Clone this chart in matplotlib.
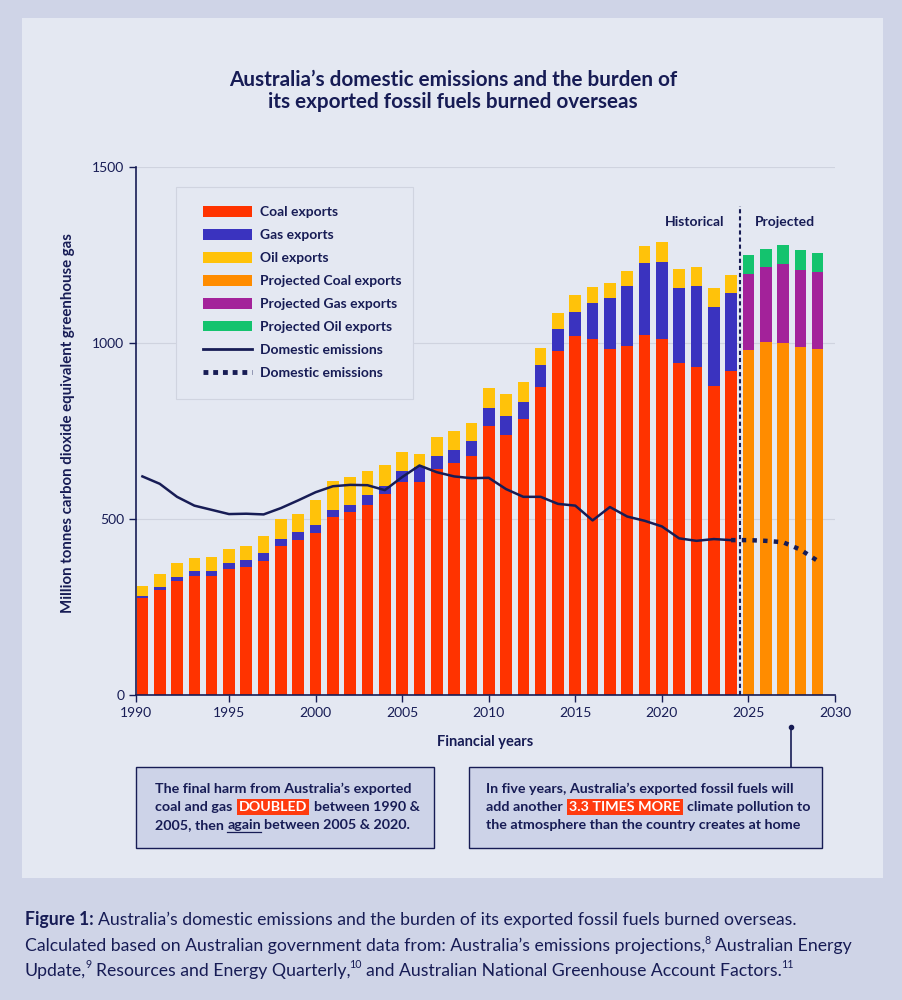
import matplotlib
matplotlib.use('Agg')
import matplotlib.pyplot as plt
from matplotlib.patches import Patch, Rectangle
from matplotlib.lines import Line2D

# colours
OUTER = '#cfd4e7'
INNER = '#e4e8f2'
BOXFILL = '#cdd3e8'
NAVY = '#171c55'
COAL = '#ff3300'
GAS = '#3a33bf'
OIL = '#ffc20a'
PCOAL = '#ff8c00'
PGAS = '#a3229a'
POIL = '#14c36e'
HL = '#ff3b0f'

FONT = ['Lato', 'DejaVu Sans']
matplotlib.rc('font', family=FONT)

# data, Mt CO2-e
hist_years = list(range(1990, 2025))
coal = [275, 298, 323, 337, 337, 357, 364, 380, 422, 441, 459, 505, 519, 541, 572,
        606, 606, 642, 658, 680, 764, 739, 785, 875, 976, 1020, 1012, 983, 992, 1022,
        1012, 944, 931, 877, 920]
gas = [7, 10, 12, 14, 16, 17, 19, 23, 21, 22, 23, 21, 20, 26, 22,
       30, 42, 38, 38, 43, 52, 55, 48, 62, 63, 69, 101, 144, 170, 205,
       219, 213, 231, 225, 221]
oil = [28, 36, 39, 39, 40, 41, 41, 50, 57, 51, 71, 83, 80, 69, 58,
       54, 36, 52, 53, 50, 55, 61, 56, 49, 45, 46, 45, 43, 42, 48,
       56, 52, 53, 55, 51]
proj_years = [2025, 2026, 2027, 2028, 2029]
proj_coal = [980, 1003, 999, 990, 983]
proj_gas = [215, 214, 225, 218, 218]
proj_oil = [54, 50, 55, 56, 56]
domestic = [621, 600, 563, 538, 526, 514, 515, 513, 531, 553, 576, 593, 597, 596, 582,
            619, 652, 633, 621, 616, 617, 585, 563, 563, 543, 538, 496, 534, 507, 495,
            479, 445, 438, 443, 440]
dom_proj_years = [2024, 2025, 2026, 2027, 2028, 2029]
dom_proj = [440, 440, 438, 434, 413, 381]

legend_labels = ['Coal exports', 'Gas exports', 'Oil exports', 'Projected Coal exports',
                 'Projected Gas exports', 'Projected Oil exports', 'Domestic emissions',
                 'Domestic emissions']
xtick_years = [1990, 1995, 2000, 2005, 2010, 2015, 2020, 2025, 2030]

fig = plt.figure(figsize=(9.03, 10), dpi=100, facecolor=OUTER)
W, H = 903., 1000.
fig.add_artist(Rectangle((22/W, 1-878/H), 861/W, 860/H, transform=fig.transFigure,
                         fc=INNER, ec='none', zorder=0))

ax = fig.add_axes([136/W, 1-695/H, 699/W, 528/H])
ax.set_facecolor('none')
bw = 0.67
ax.bar(hist_years, coal, bw, color=COAL, zorder=2)
bot = [c+g for c, g in zip(coal, gas)]
ax.bar(hist_years, gas, bw, bottom=coal, color=GAS, zorder=2)
ax.bar(hist_years, oil, bw, bottom=bot, color=OIL, zorder=2)
ax.bar(proj_years, proj_coal, bw, color=PCOAL, zorder=2)
pbot = [c+g for c, g in zip(proj_coal, proj_gas)]
ax.bar(proj_years, proj_gas, bw, bottom=proj_coal, color=PGAS, zorder=2)
ax.bar(proj_years, proj_oil, bw, bottom=pbot, color=POIL, zorder=2)

ax.plot(hist_years, domestic, color=NAVY, lw=1.8, zorder=4)
ax.plot(dom_proj_years, dom_proj, color=NAVY, lw=3.2, ls=(0, (1, 1.4)), zorder=4)
ax.plot([2024.5, 2024.5], [0, 1390], color=NAVY, lw=1.5, ls=(0, (2, 1.4)), zorder=5)

ax.text(2021.9, 1344, 'Historical', ha='center', va='center', color=NAVY,
        fontsize=10, fontweight='bold')
ax.text(2027.1, 1344, 'Projected', ha='center', va='center', color=NAVY,
        fontsize=10, fontweight='bold')

x0 = 1989.63
ax.set_xlim(x0, 2030)
ax.set_ylim(0, 1500)
ax.set_xticks([x0] + xtick_years[1:])
ax.set_xticklabels([str(y) for y in xtick_years])
ax.set_yticks([0, 500, 1000, 1500])
ax.grid(axis='y', color='#cfd3df', lw=0.8, zorder=0)
for s in ['top', 'right']:
    ax.spines[s].set_visible(False)
for s in ['left', 'bottom']:
    ax.spines[s].set_color(NAVY)
    ax.spines[s].set_linewidth(1.2)
ax.tick_params(colors=NAVY, labelsize=10, length=5, width=1)
ax.set_xlabel('Financial years', color=NAVY, fontsize=10.5, fontweight='bold', labelpad=12)
ax.set_ylabel('Million tonnes carbon dioxide equivalent greenhouse gas', color=NAVY,
              fontsize=10.8, fontweight='bold')
ax.yaxis.set_label_coords(-0.087, 0.515)

# legend: frame drawn by hand for the uneven padding
ax.add_patch(Rectangle((176/W, 1-399/H), 237/W, 212/H, transform=fig.transFigure,
                       fc=INNER, ec='#d0d4e0', lw=0.8, zorder=5, clip_on=False))
handles = [Patch(fc=c) for c in [COAL, GAS, OIL, PCOAL, PGAS, POIL]]
handles += [Line2D([], [], color=NAVY, lw=2),
            Line2D([], [], color=NAVY, lw=3.5, ls=(0, (1, 1)))]
leg = ax.legend(handles, legend_labels, loc='upper left',
                bbox_to_anchor=((203-136)/699., (695-206)/528.),
                frameon=False, fontsize=10, handlelength=3.5, handleheight=0.8,
                labelspacing=0.78, handletextpad=0.58, borderpad=0, borderaxespad=0)
leg.set_zorder(6)
for t in leg.get_texts():
    t.set_color(NAVY)
    t.set_fontweight('bold')

fig.text(453/W, 1-80/H, 'Australia\u2019s domestic emissions and the burden of',
         ha='center', va='center', color=NAVY, fontsize=14.9, fontweight='bold')
fig.text(453/W, 1-102/H, 'its exported fossil fuels burned overseas',
         ha='center', va='center', color=NAVY, fontsize=14.9, fontweight='bold')

# annotation boxes
fig.add_artist(Rectangle((136/W, 1-848/H), 298/W, 81/H, transform=fig.transFigure,
                         fc=BOXFILL, ec=NAVY, lw=1))
fig.add_artist(Rectangle((469/W, 1-848/H), 353/W, 81/H, transform=fig.transFigure,
                         fc=BOXFILL, ec=NAVY, lw=1))
fig.add_artist(Line2D([791/W, 791/W], [1-727/H, 1-767/H], transform=fig.transFigure,
                      color=NAVY, lw=1.2, marker='o', markersize=3, markevery=[0]))

r = fig.canvas.get_renderer()


def text_w(s, **kw):
    t = fig.text(0, 0, s, **kw)
    w = t.get_window_extent(r).width
    t.remove()
    return w


def rich_line(x, y, parts, **kw):
    'draw a line of text pieces left to right, x and y in pixels from top-left'
    sp = text_w('a a', **kw) - text_w('aa', **kw)
    for s, style in parts:
        if s.startswith(' '):
            x += sp
            s = s[1:]
        k = dict(kw)
        yy = y
        if style == 'sup':
            k['fontsize'] = kw['fontsize'] * 0.6
            yy = y - 6
            x -= 1
        if style == 'bold':
            k['fontweight'] = 'bold'
        if style == 'hl':
            x += 3
            k['color'] = 'white'
            k['bbox'] = dict(boxstyle='square,pad=0.15', fc=HL, ec='none')
        t = fig.text(x/W, 1-yy/H, s, va='center', ha='left', **k)
        bb = t.get_window_extent(r)
        if style == 'ul':
            fig.add_artist(Line2D([bb.x0/W, bb.x1/W], [(bb.y0-1)/H]*2,
                                  transform=fig.transFigure, color=kw['color'], lw=0.9))
        x += bb.width
        if style == 'hl':
            x += 3


box_kw = dict(color=NAVY, fontsize=10.3, fontweight='bold')
rich_line(155, 789, [('The final harm from Australia\u2019s exported', None)], **box_kw)
rich_line(155, 807, [('coal and gas', None), (' DOUBLED', 'hl'), (' between 1990 &', None)], **box_kw)
rich_line(155, 825, [('2005, then', None), (' again', 'ul'), (' between 2005 & 2020.', None)], **box_kw)
rich_line(486, 789, [('In five years, Australia\u2019s exported fossil fuels will', None)], **box_kw)
rich_line(486, 807, [('add another', None), (' 3.3 TIMES MORE', 'hl'), (' climate pollution to', None)], **box_kw)
rich_line(486, 825, [('the atmosphere than the country creates at home', None)], **box_kw)

cap_kw = dict(color=NAVY, fontsize=12.7)
rich_line(25, 920, [('Figure 1:', 'bold'),
                    (' Australia\u2019s domestic emissions and the burden of its exported fossil fuels burned overseas.', None)], **cap_kw)
rich_line(25, 946, [('Calculated based on Australian government data from: Australia\u2019s emissions projections,', None),
                    ('8', 'sup'), (' Australian Energy', None)], **cap_kw)
rich_line(25, 971, [('Update,', None), ('9', 'sup'), (' Resources and Energy Quarterly,', None), ('10', 'sup'),
                    (' and Australian National Greenhouse Account Factors.', None), ('11', 'sup')], **cap_kw)

fig.savefig('out.png', dpi=100, facecolor=OUTER)
